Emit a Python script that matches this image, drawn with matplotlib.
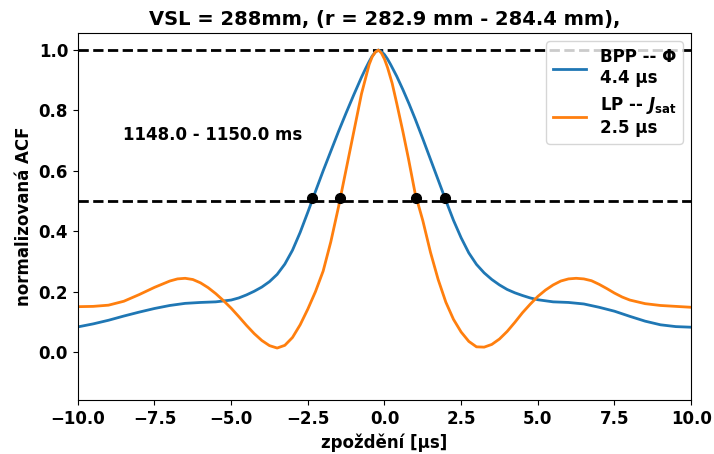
import matplotlib
matplotlib.use("Agg")
import matplotlib.pyplot as plt

plt.rcParams['font.weight'] = 'bold'
plt.rcParams['axes.labelweight'] = 'bold'
plt.rcParams['axes.titleweight'] = 'bold'
plt.rcParams['font.size'] = 12
plt.rcParams['mathtext.fontset'] = 'dejavusans'

title = "VSL = 288mm, (r = 282.9 mm - 284.4 mm),"
xlabel = "zpoždění [μs]"
ylabel = "normalizovaná ACF"
time_text = "1148.0 - 1150.0 ms"

bpp_label = "BPP -- Φ\n4.4 μs"
lp_label = "LP -- $\\mathbfit{J}_{\\mathbf{sat}}$\n2.5 μs"

bpp_x = [-10, -9.5, -9, -8.5, -8, -7.5, -7, -6.5, -6, -5.5, -5.0, -4.75, -4.5,
         -4.25, -4.0, -3.75, -3.5, -3.25, -3.0, -2.75, -2.5, -2.25, -2.0, -1.75,
         -1.5, -1.25, -1.0, -0.75, -0.6, -0.5, -0.4, -0.3, -0.2, -0.1, 0.0, 0.1,
         0.2, 0.4, 0.6, 0.8, 1.0, 1.25, 1.5, 1.75, 2.0, 2.25, 2.5, 2.75, 3.0,
         3.25, 3.5, 3.75, 4.0, 4.25, 4.5, 4.75, 5.0, 5.5, 6.0, 6.5, 7.0, 7.5,
         8.0, 8.5, 9.0, 9.5, 10]
bpp_y = [0.083, 0.093, 0.105, 0.119, 0.132, 0.144, 0.154, 0.161, 0.164, 0.166,
         0.172, 0.179, 0.189, 0.201, 0.215, 0.233, 0.257, 0.291, 0.337, 0.396,
         0.463, 0.532, 0.6, 0.665, 0.73, 0.792, 0.852, 0.91, 0.942, 0.962,
         0.98, 0.993, 1.0, 0.995, 0.985, 0.97, 0.952, 0.913, 0.869, 0.822,
         0.772, 0.706, 0.638, 0.57, 0.502, 0.436, 0.378, 0.328, 0.29, 0.262,
         0.24, 0.222, 0.207, 0.196, 0.187, 0.179, 0.173, 0.166, 0.164, 0.159,
         0.148, 0.135, 0.118, 0.102, 0.09, 0.084, 0.082]

lp_x = [-10, -9.5, -9, -8.5, -8, -7.5, -7.0, -6.75, -6.5, -6.25, -6.0, -5.75,
        -5.5, -5.25, -5.0, -4.75, -4.5, -4.25, -4.0, -3.75, -3.5, -3.25, -3.0,
        -2.75, -2.5, -2.25, -2.0, -1.75, -1.5, -1.25, -1.0, -0.75, -0.5, -0.4,
        -0.3, -0.2, -0.1, 0.0, 0.1, 0.25, 0.4, 0.6, 0.78, 1.0, 1.25, 1.5, 1.75,
        2.0, 2.25, 2.5, 2.75, 3.0, 3.25, 3.5, 3.75, 4.0, 4.25, 4.5, 4.75, 5.0,
        5.25, 5.5, 5.75, 6.0, 6.25, 6.5, 6.75, 7.0, 7.25, 7.5, 7.75, 8.0, 8.5,
        9.0, 9.5, 10]
lp_y = [0.15, 0.151, 0.155, 0.168, 0.19, 0.214, 0.235, 0.242, 0.244, 0.24,
        0.229, 0.213, 0.193, 0.17, 0.145, 0.117, 0.088, 0.061, 0.038, 0.021,
        0.013, 0.022, 0.048, 0.09, 0.142, 0.2, 0.268, 0.365, 0.48, 0.605,
        0.73, 0.855, 0.952, 0.978, 0.993, 1.0, 0.99, 0.97, 0.942, 0.89, 0.823,
        0.73, 0.641, 0.525, 0.435, 0.33, 0.24, 0.165, 0.108, 0.066, 0.035,
        0.017, 0.016, 0.025, 0.043, 0.068, 0.098, 0.13, 0.158, 0.184, 0.205,
        0.222, 0.235, 0.242, 0.244, 0.242, 0.236, 0.224, 0.21, 0.195, 0.182,
        0.172, 0.16, 0.154, 0.151, 0.148]

half_x = [-2.37, -1.45, 1.03, 1.97]
half_y = [0.51, 0.51, 0.51, 0.51]

fig = plt.figure(figsize=(7.14, 4.54), dpi=100)
ax = fig.add_axes([0.109, 0.119, 0.859, 0.808])

ax.axhline(1.0, color='black', ls='--', lw=2)
ax.axhline(0.5, color='black', ls='--', lw=2)
ax.plot(bpp_x, bpp_y, color='#1f77b4', lw=2, label=bpp_label)
ax.plot(lp_x, lp_y, color='#ff7f0e', lw=2, label=lp_label)
ax.plot(half_x, half_y, 'o', color='black', ms=7)

ax.text(-8.53, 0.72, time_text, fontsize=12, fontweight='bold', va='center', ha='left')

ax.set_xlim(-10, 10)
ax.set_ylim(-0.159, 1.056)
ax.set_title(title, fontsize=14, fontweight='bold')
ax.set_xlabel(xlabel, fontweight='bold')
ax.set_ylabel(ylabel, fontweight='bold')
ax.legend(loc='upper right', prop={'weight': 'bold', 'size': 12})

fig.savefig("out.png", dpi=100)
